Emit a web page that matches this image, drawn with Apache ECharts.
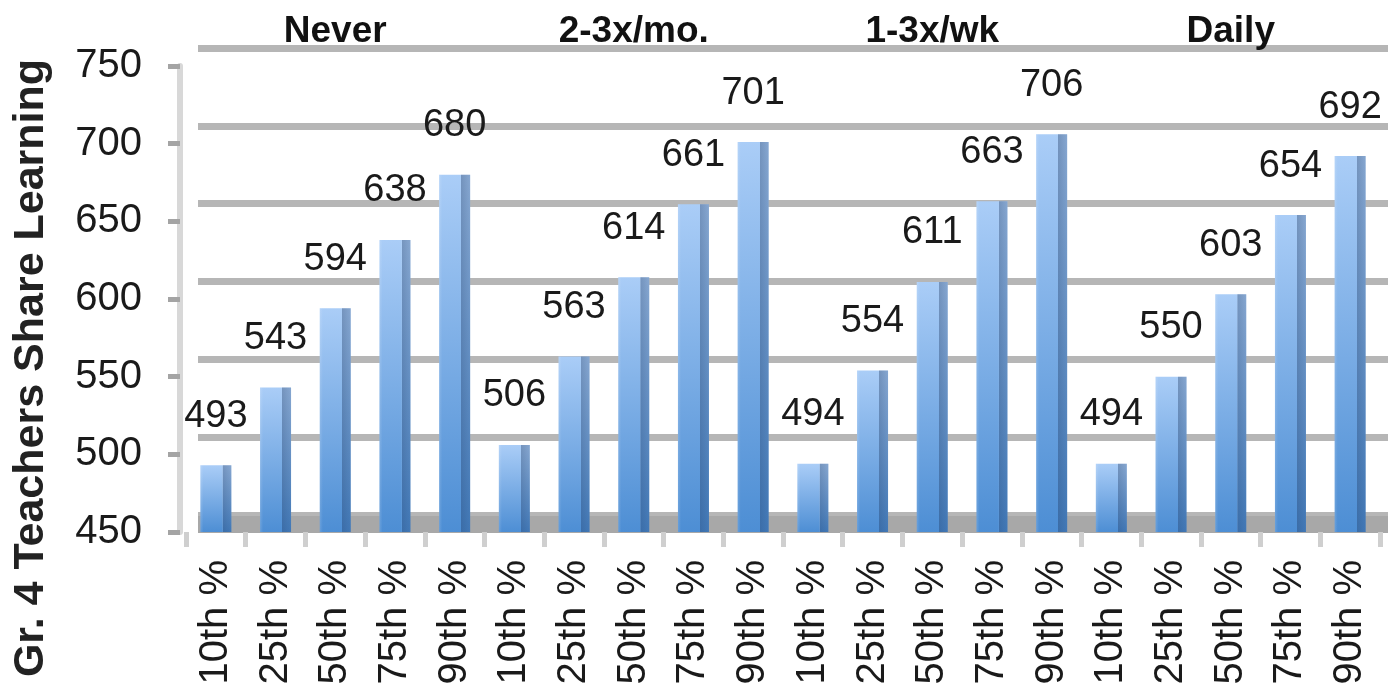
<!DOCTYPE html>
<html>
<head>
<meta charset="utf-8">
<title>Gr. 4 Teachers Share Learning</title>
<script src="https://cdn.jsdelivr.net/npm/echarts@6/dist/echarts.min.js"></script>
<style>
    html, body { margin: 0; padding: 0; background: #fff; }
    #bars_3d { width: 1388px; height: 698px; }
</style>
</head>
<body>
<div id="bars_3d"></div>
<script>

// Chart data
// ------------------------------

var groups = ['Never', '2-3x/mo.', '1-3x/wk', 'Daily'];
var percentiles = ['10th %', '25th %', '50th %', '75th %', '90th %'];

var neverScores = [493, 543, 594, 638, 680];
var monthlyScores = [506, 563, 614, 661, 701];
var weeklyScores = [494, 554, 611, 663, 706];
var dailyScores = [494, 550, 603, 654, 692];

var yTicks = [450, 500, 550, 600, 650, 700, 750];


// Setup module
// ------------------------------

var EchartsBars3dLight = function() {

    var _barsExample = function() {
        if (typeof echarts == 'undefined') {
            console.warn('Warning - echarts.min.js is not loaded.');
            return;
        }

        var bars_element = document.getElementById('bars_3d');
        if (!bars_element) return;

        // one category per bar, groups laid end to end
        var categories = [];
        groups.forEach(function() {
            categories = categories.concat(percentiles);
        });
        var scores = [].concat(neverScores, monthlyScores, weeklyScores, dailyScores);

        var fontFamily = '"Liberation Sans", Arial, sans-serif';
        var yMin = yTicks[0];
        var yMax = yTicks[yTicks.length - 1];
        var yStep = yTicks[1] - yTicks[0];

        var bars = echarts.init(bars_element);

        bars.setOption({

            animation: false,

            textStyle: {
                fontFamily: fontFamily
            },

            // front plane (axes, bars) and back wall (gridlines, floor)
            grid: [
                { left: 186, right: 8, top: 66, bottom: 166 },
                { left: 198, right: 0, top: 48, bottom: 183 }
            ],

            // Y axis title
            graphic: [{
                type: 'text',
                x: 31,
                y: 368,
                rotation: Math.PI / 2,
                style: {
                    text: 'Gr. 4 Teachers Share Learning',
                    font: 'bold 43px ' + fontFamily,
                    fill: '#222',
                    align: 'center',
                    verticalAlign: 'middle'
                }
            }],

            xAxis: [{
                type: 'category',
                gridIndex: 0,
                data: categories,
                axisLine: { show: false },
                axisTick: {
                    show: true,
                    length: 15,
                    lineStyle: { color: '#cfcfcf', width: 5 }
                },
                axisLabel: {
                    interval: 0,
                    rotate: 90,
                    margin: 28,
                    fontSize: 40,
                    color: '#1a1a1a'
                }
            }, {
                type: 'category',
                gridIndex: 1,
                data: categories,
                offset: 9,
                axisLine: {
                    lineStyle: { color: '#a8a8a8', width: 17, cap: 'butt' }
                },
                axisTick: { show: false },
                axisLabel: { show: false }
            }, {
                type: 'category',
                gridIndex: 0,
                position: 'top',
                offset: 14,
                data: groups,
                axisLine: { show: false },
                axisTick: { show: false },
                axisLabel: {
                    margin: 2,
                    fontSize: 37,
                    fontWeight: 'bold',
                    color: '#111'
                }
            }],

            yAxis: [{
                type: 'value',
                gridIndex: 0,
                min: yMin,
                max: yMax,
                interval: yStep,
                offset: 6,
                axisLine: {
                    show: true,
                    lineStyle: { color: '#d8d8d8', width: 6 }
                },
                axisTick: {
                    show: true,
                    length: 12,
                    lineStyle: { color: '#a4a4a4', width: 5 }
                },
                axisLabel: {
                    margin: 38,
                    fontSize: 40,
                    color: '#1a1a1a'
                },
                splitLine: { show: false }
            }, {
                type: 'value',
                gridIndex: 1,
                min: yMin,
                max: yMax,
                interval: yStep,
                axisLine: { show: false },
                axisTick: { show: false },
                axisLabel: { show: false },
                splitLine: {
                    lineStyle: { color: '#b6b6b6', width: 7 }
                }
            }],

            series: [{
                name: 'Score',
                type: 'bar',
                xAxisIndex: 0,
                yAxisIndex: 0,
                barWidth: 31,
                data: scores,
                itemStyle: {
                    color: new echarts.graphic.LinearGradient(0, 0, 0, 1, [
                        { offset: 0, color: '#aacdf7' },
                        { offset: 1, color: '#4d8ed4' }
                    ])
                },
                label: {
                    show: true,
                    position: 'top',
                    distance: 30,
                    fontSize: 38,
                    color: '#1a1a1a'
                }
            }, {
                // side face shading of the columns
                name: 'Side',
                type: 'bar',
                xAxisIndex: 0,
                yAxisIndex: 0,
                barWidth: 31,
                barGap: '-100%',
                data: scores,
                silent: true,
                itemStyle: {
                    color: new echarts.graphic.LinearGradient(0, 0, 1, 0, [
                        { offset: 0, color: 'rgba(255,255,255,0.15)' },
                        { offset: 0.1, color: 'rgba(255,255,255,0)' },
                        { offset: 0.71, color: 'rgba(255,255,255,0)' },
                        { offset: 0.72, color: 'rgba(30,55,95,0.38)' },
                        { offset: 1, color: 'rgba(30,55,95,0.25)' }
                    ])
                }
            }]
        });

        var resizeCharts;
        window.addEventListener('resize', function() {
            clearTimeout(resizeCharts);
            resizeCharts = setTimeout(function() {
                bars.resize();
            }, 200);
        });
    };

    return {
        init: function() {
            _barsExample();
        }
    }
}();


// Initialize module
// ------------------------------

document.addEventListener('DOMContentLoaded', function() {
    EchartsBars3dLight.init();
});
</script>
</body>
</html>
